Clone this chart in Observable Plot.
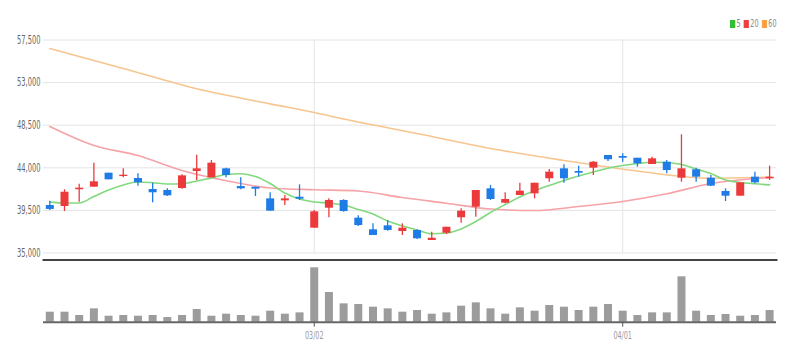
<!DOCTYPE html>
<html><head><meta charset="utf-8">
<script src="https://cdn.jsdelivr.net/npm/d3@7"></script>
<script src="https://cdn.jsdelivr.net/npm/@observablehq/plot@0.6"></script>
<style>
body{margin:0;background:#fff;}
#wrap{position:relative;width:794px;height:361px;overflow:hidden;font-family:"DejaVu Sans Condensed","DejaVu Sans",sans-serif;}
#price,#vol{position:absolute;left:0;}
#price{top:0}
#vol{top:262px}
#legend{position:absolute;top:18px;right:18px;font-size:11px;color:#888;display:flex;align-items:center;line-height:12px;transform:scaleX(0.65);transform-origin:right center;}
#legend span.sw{display:inline-block;width:8px;height:8px;margin-right:2px;}
#legend span.lb{margin-right:5px;}
#legend span.lb:last-child{margin-right:0}
</style></head>
<body><div id="wrap"><div id="price"></div><div id="vol"></div><div id="legend"></div></div>
<script>
// ---- data ----
const dates = ["02/03","02/04","02/07","02/08","02/09","02/10","02/11","02/14","02/15","02/16",
"02/17","02/18","02/21","02/22","02/23","02/24","02/25","02/28",
"03/02","03/03","03/04","03/07","03/08","03/10","03/11","03/14","03/15","03/16","03/17","03/18",
"03/21","03/22","03/23","03/24","03/25","03/28","03/29","03/30","03/31",
"04/01","04/04","04/05","04/06","04/07","04/08","04/11","04/12","04/13","04/14","04/15"];
const open  = [40020,39910,41680,41950,43430,43080,42870,41710,41600,41810,43610,42940,43890,42020,41950,40720,40510,40890,37620,39730,40550,38680,37450,37870,37270,37380,36320,37090,38720,39840,41780,40260,41070,41250,42840,43890,43610,43960,45300,45190,45010,44350,44590,42900,43790,42900,41500,41000,43010,42840];
const high  = [40470,41680,42270,44490,43430,43890,43360,42370,41780,43260,45330,44770,43960,42940,41950,41360,41070,42200,39490,40720,40620,38930,38080,38430,38080,37450,37200,37720,39670,41600,42130,41360,42370,42370,43820,44320,44170,44670,45300,45480,45010,45120,44770,47490,43960,43190,41780,42410,43540,44170];
const low   = [39490,39380,40370,41950,42730,42940,42060,40300,40970,41740,42660,42940,42940,41680,40970,39420,40020,40550,37620,38720,39310,37800,36850,37300,36850,36430,36320,36950,38150,38780,40550,40200,41070,40720,42480,42370,43010,43190,44670,44590,44060,44350,43360,42480,42480,42020,40440,41000,42310,42660];
const close = [39600,41420,41850,42520,42730,43220,42420,41360,41040,43150,43890,44490,43190,41780,41740,39420,40720,40680,39350,40550,39380,37900,36850,37380,37620,36500,36560,37720,39420,41600,40650,40650,41530,42370,43540,42840,43430,44590,44850,45010,44420,44950,43710,43890,43010,42060,41000,42410,42410,43010];
const volume = [30,30,20,40,18,20,18,20,14,20,38,18,24,20,18,33,24,28,163,89,55,53,45,40,30,35,24,28,48,58,40,24,43,33,50,45,35,45,53,33,20,28,28,136,33,20,23,18,20,35];
const ma5 = [40370,40280,40280,40970,41650,42180,42500,42420,42290,42310,42600,42920,43290,43370,43080,42340,41340,40700,40390,40280,40070,39600,39120,38380,37850,37430,37030,37110,37540,38330,39280,40120,40920,41570,42130,42660,43130,43560,43950,44240,44450,44590,44560,44350,43870,43400,42710,42450,42310,42200];
const ma20Idx = [0,3,6,9,12,15,18,21,24,27,30,33,36,39,42,45,48,49];
const ma20 = [48360,46360,45300,43710,42640,41870,41680,41550,40860,40260,39650,39490,39910,40440,41250,42340,42870,42980];
const ma60Idx = [0,5,10,15,18,20,25,30,35,40,45,47,49];
const ma60 = [56600,54490,52350,50750,49840,49150,47620,46040,44780,43660,42900,42950,43000];
const yTicks = [35000,39500,44000,48500,53000,57500];
const xTickLabels = ["03/02","04/01"];
const legendItems = ["5","20","60"];

// ---- styles ----
const RED = "#ec3a3c", BLUE = "#1f7be6";
const C5 = "#80d97c", C20 = "#f6a3a8", C60 = "#f8c58f";
const FONT = "'DejaVu Sans Condensed','DejaVu Sans',sans-serif";

const candles = dates.map((d,i)=>({i, d, o:open[i], h:high[i], l:low[i], c:close[i]}));
const colorOf = d => d.c >= d.o ? RED : BLUE;
const tickIdx = xTickLabels.map(t => dates.indexOf(t));
const ma5Data = ma5.map((v,i)=>({i, v}));
const ma20Data = ma20Idx.map((i,k)=>({i, v:ma20[k]}));
const ma60Data = ma60Idx.map((i,k)=>({i, v:ma60[k]}));
const volData = volume.map((v,i)=>({i, v}));
const XD = [-0.43, 49.47];

// narrow the glyphs horizontally (the reference uses a condensed face)
function squeeze(svg, k){
  svg.querySelectorAll("text").forEach(t=>{
    const tr = t.getAttribute("transform") || "";
    const x = parseFloat(t.getAttribute("x")) || 0;
    t.removeAttribute("x");
    t.setAttribute("transform", `${tr} translate(${x},0) scale(${k},1)`);
  });
}

const price = Plot.plot({
  width:794, height:262, marginLeft:43, marginRight:18, marginTop:0, marginBottom:2.5,
  style:{fontFamily:FONT, fontSize:"12px", background:"transparent"},
  x:{domain:XD, axis:null},
  y:{domain:[35000,57500], range:[252.5,39.5], axis:null},
  marks:[
    Plot.gridY(yTicks,{stroke:"#e4e4e4", strokeOpacity:1}),
    Plot.ruleX(tickIdx,{y1:35000, y2:57500, stroke:"#e4e4e4"}),
    Plot.axisY(yTicks,{tickSize:0, tickPadding:3, tickFormat:d3.format(","), fill:"#666", label:null}),
    Plot.line(ma60Data,{x:"i", y:"v", stroke:C60, strokeWidth:1.6, curve:"monotone-x"}),
    Plot.line(ma20Data,{x:"i", y:"v", stroke:C20, strokeWidth:1.6, curve:"monotone-x"}),
    Plot.line(ma5Data,{x:"i", y:"v", stroke:C5, strokeWidth:1.6, curve:"monotone-x"}),
    Plot.ruleX(candles,{x:"i", y1:"l", y2:"h", stroke:colorOf, strokeWidth:1.3}),
    Plot.ruleX(candles,{x:"i", y1:"o", y2:"c", stroke:colorOf, strokeWidth:8}),
    Plot.frame({anchor:"bottom", stroke:"#444", strokeWidth:2})
  ]
});
squeeze(price, 0.62);
document.getElementById("price").appendChild(price);

const vol = Plot.plot({
  width:794, height:99, marginLeft:43, marginRight:18, marginTop:0, marginBottom:39.3,
  style:{fontFamily:FONT, fontSize:"11px", background:"transparent"},
  x:{domain:XD, axis:null},
  y:{domain:[0,163], range:[59.7,5.3], axis:null},
  marks:[
    Plot.ruleX(volData,{x:"i", y1:0, y2:"v", stroke:"#9c9c9c", strokeWidth:8}),
    Plot.ruleY([0],{stroke:"#666", strokeWidth:2}),
    Plot.axisX(tickIdx,{anchor:"bottom", tickSize:5, tickPadding:4, tickFormat:i=>dates[i], stroke:"#555", fill:"#999", label:null})
  ]
});
squeeze(vol, 0.65);
document.getElementById("vol").appendChild(vol);

const lg = document.getElementById("legend");
const lgColors = ["#2fc02f","#f03e3e","#f7a046"];
legendItems.forEach((t,k)=>{
  const s = document.createElement("span"); s.className="sw"; s.style.background=lgColors[k]; lg.appendChild(s);
  const l = document.createElement("span"); l.className="lb"; l.textContent=t; lg.appendChild(l);
});
</script></body></html>
